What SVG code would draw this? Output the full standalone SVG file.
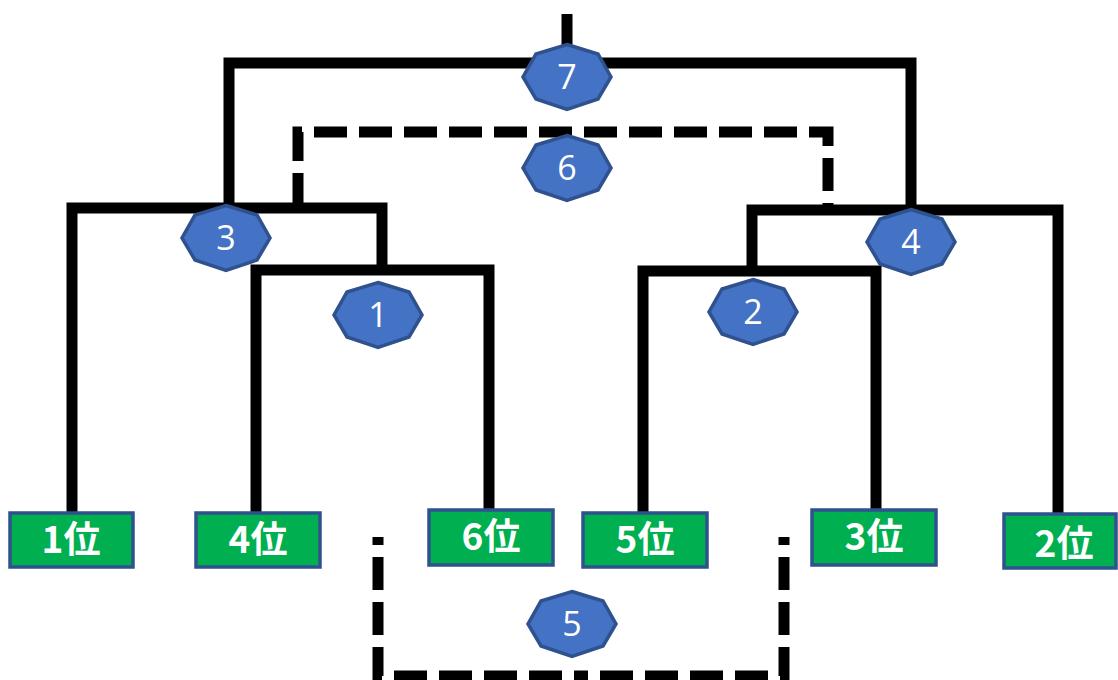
<svg xmlns="http://www.w3.org/2000/svg" width="1118" height="680" viewBox="0 0 1118 680">
<style>
.ln{fill:none;stroke:#000;stroke-width:11;stroke-linejoin:miter}
.ds{fill:none;stroke:#000;stroke-width:11;stroke-dasharray:33 12}
.oct{fill:#4472C4;stroke:#2F528F;stroke-width:3.5}
.num{fill:#fff;font-family:"Open Sans","Liberation Sans",sans-serif;font-size:34px;text-anchor:middle}
.box{fill:#00B050;stroke:#2F528F;stroke-width:3.5}
.lbl{fill:#fff;font-family:"Noto Sans CJK JP","Noto Sans",sans-serif;font-weight:bold;font-size:37px;text-anchor:middle}
</style>
<defs>
<polygon id="oct" points="0,-32.5 31,-23 44,0 31,22 0,32.5 -31,22 -44,0 -31,-23"/>
</defs>
<g id="connectors">
<path class="ln" d="M567,14 V63"/>
<path class="ln" d="M229,208 V63 H911 V210"/>
<path class="ln" d="M72,513 V208 H382 V270"/>
<path class="ln" d="M256,513 V270 H489 V510"/>
<path class="ln" d="M752,271 V210 H1058 V517"/>
<path class="ln" d="M643,512 V271 H876 V510"/>
<path class="ds" d="M298,208 V132 H828 V208" stroke-dashoffset="-2"/>
<path class="ds" d="M378,537 V676 H581" stroke-dashoffset="25"/>
<path class="ds" d="M784,537 V676 H581" stroke-dashoffset="25"/>
</g>
<g id="n7"><use href="#oct" class="oct" x="567" y="77"/><text class="num" x="567" y="89">7</text></g>
<g id="n6"><use href="#oct" class="oct" x="567" y="168"/><text class="num" x="567" y="180">6</text></g>
<g id="n3"><use href="#oct" class="oct" x="226" y="238"/><text class="num" x="226" y="250">3</text></g>
<g id="n1"><use href="#oct" class="oct" x="378" y="315"/><text class="num" x="378" y="327">1</text></g>
<g id="n4"><use href="#oct" class="oct" x="911" y="242"/><text class="num" x="911" y="254">4</text></g>
<g id="n2"><use href="#oct" class="oct" x="753" y="312"/><text class="num" x="753" y="324">2</text></g>
<g id="n5"><use href="#oct" class="oct" x="572" y="624"/><text class="num" x="572" y="636">5</text></g>
<g id="r1"><rect class="box" x="10" y="513" width="123" height="54"/><text class="lbl" x="71" y="553">1位</text></g>
<g id="r4"><rect class="box" x="196" y="513" width="124" height="54"/><text class="lbl" x="258" y="553">4位</text></g>
<g id="r6"><rect class="box" x="429" y="510" width="124" height="55"/><text class="lbl" x="491" y="550">6位</text></g>
<g id="r5"><rect class="box" x="583" y="513" width="124" height="54"/><text class="lbl" x="645" y="553">5位</text></g>
<g id="r3"><rect class="box" x="812" y="510" width="124" height="55"/><text class="lbl" x="874" y="550">3位</text></g>
<g id="r2"><rect class="box" x="1004" y="514" width="112" height="54"/><text class="lbl" x="1064" y="557">2位</text></g>
</svg>
